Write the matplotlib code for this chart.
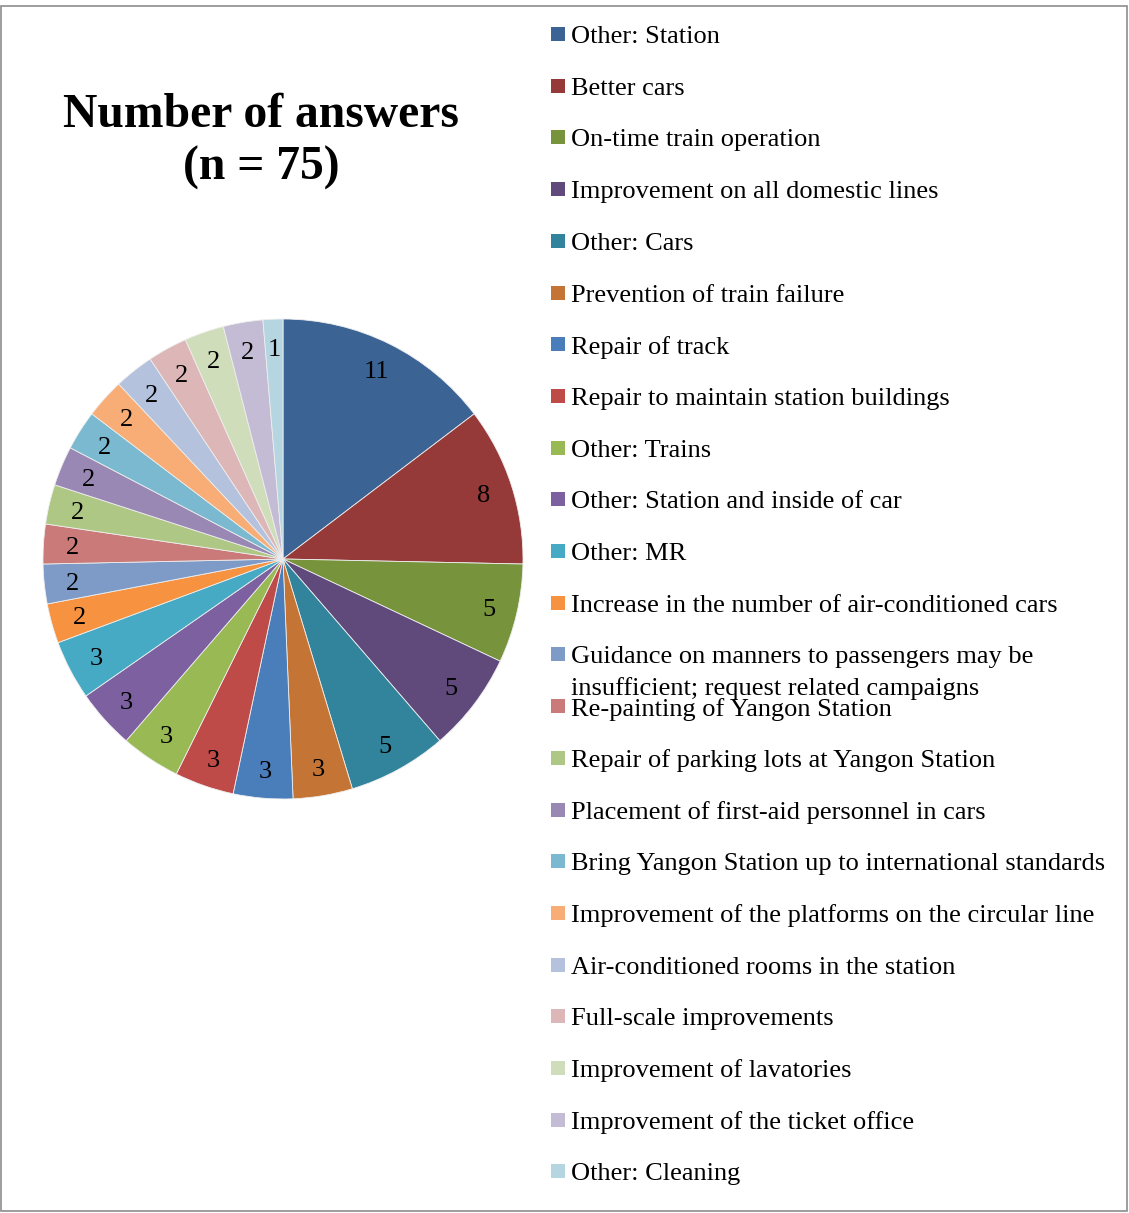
import matplotlib
matplotlib.use("Agg")
import matplotlib.pyplot as plt
from matplotlib.patches import Rectangle

categories = [
    "Other: Station",
    "Better cars",
    "On-time train operation",
    "Improvement on all domestic lines",
    "Other: Cars",
    "Prevention of train failure",
    "Repair of track",
    "Repair to maintain station buildings",
    "Other: Trains",
    "Other: Station and inside of car",
    "Other: MR",
    "Increase in the number of air-conditioned cars",
    "Guidance on manners to passengers may be\ninsufficient; request related campaigns",
    "Re-painting of Yangon Station",
    "Repair of parking lots at Yangon Station",
    "Placement of first-aid personnel in cars",
    "Bring Yangon Station up to international standards",
    "Improvement of the platforms on the circular line",
    "Air-conditioned rooms in the station",
    "Full-scale improvements",
    "Improvement of lavatories",
    "Improvement of the ticket office",
    "Other: Cleaning",
]
answers = [11, 8, 5, 5, 5, 3, 3, 3, 3, 3, 3, 2, 2, 2, 2, 2, 2, 2, 2, 2, 2, 2, 1]
colors = [
    "#3B6495", "#953A38", "#77933C", "#604A7B", "#31849B", "#C47434",
    "#4A7EBB", "#BE4B48", "#98B954", "#7D60A0", "#46AAC5", "#F69240",
    "#7E9BC8", "#CA7B79", "#AEC784", "#9A88B4", "#7AB9CF", "#F8AD77",
    "#B4C2DE", "#DDB7B7", "#D0DDBA", "#C4BCD4", "#B5D5E0",
]
title_lines = ["Number of answers", "(n = 75)"]

W, H = 1129, 1213
plt.rcParams["font.family"] = ["Liberation Serif", "DejaVu Serif"]
fig = plt.figure(figsize=(W / 100, H / 100), dpi=100)

# outer frame
fig.add_artist(Rectangle((1 / W, 2 / H), (W - 3) / W, (H - 8) / H,
                         transform=fig.transFigure, fill=False,
                         edgecolor="#8C8C8C", linewidth=1.2))

# pie: centre (283, 559) px, radius 240 px
cx, cy, r = 283, 559, 240
ax = fig.add_axes([(cx - r) / W, (H - cy - r) / H, 2 * r / W, 2 * r / H])
total = sum(answers)
wedges, texts, autotexts = ax.pie(
    answers, colors=colors, startangle=90, counterclock=False,
    radius=1.0, autopct=lambda p: f"{round(p * total / 100):d}",
    pctdistance=0.88,
    wedgeprops=dict(edgecolor="#EEEEEE", linewidth=0.6),
    textprops=dict(fontsize=19, color="black"),
)
for t in autotexts:
    t.set_va("center_baseline")
ax.set_xlim(-1, 1)
ax.set_ylim(-1, 1)
ax.set_aspect("equal")
ax.axis("off")

# title
for line, ty in zip(title_lines, [115, 168]):
    fig.text(261 / W, 1 - ty / H, line, ha="center", va="center",
             fontsize=34.3, fontweight="bold")

# legend with fixed row pitch
y0, pitch = 34, 51.7
for i, (lab, col) in enumerate(zip(categories, colors)):
    y = y0 + i * pitch
    fig.add_artist(Rectangle((551 / W, 1 - (y + 7) / H), 14 / W, 14 / H,
                             transform=fig.transFigure, facecolor=col,
                             edgecolor="none"))
    for k, part in enumerate(lab.split("\n")):
        fig.text(571 / W, 1 - (y + 3 + 31 * k) / H, part, ha="left",
                 va="center", fontsize=19)

fig.savefig("out.png", dpi=100, facecolor="white")
